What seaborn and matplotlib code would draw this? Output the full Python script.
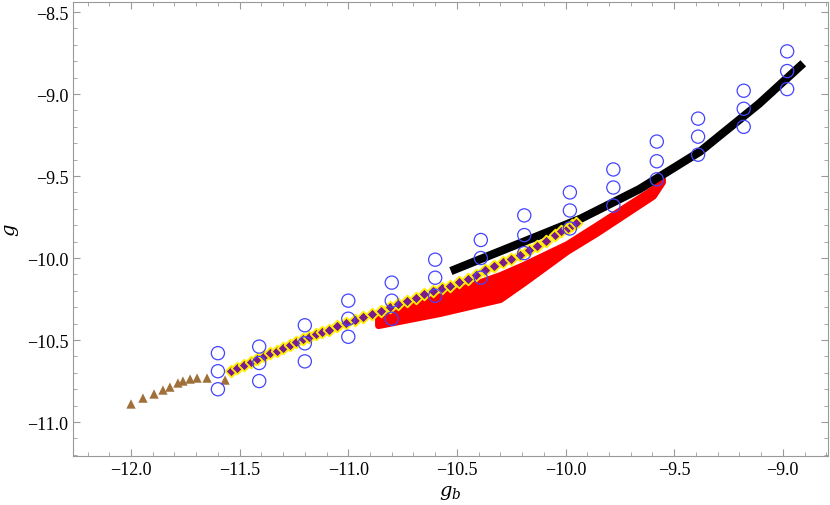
import numpy as np
import pandas as pd
import matplotlib
matplotlib.use("Agg")
import matplotlib.pyplot as plt
import seaborn as sns

circ_x = [-11.60, -11.41, -11.20, -11.00, -10.80, -10.60, -10.39, -10.19, -9.98, -9.78, -9.58, -9.39, -9.18, -8.98]
circ_top = [-10.58, -10.54, -10.41, -10.26, -10.15, -10.01, -9.89, -9.74, -9.60, -9.46, -9.29, -9.15, -8.98, -8.74]
circ_mid = [-10.69, -10.64, -10.52, -10.37, -10.26, -10.12, -10.00, -9.86, -9.71, -9.57, -9.41, -9.26, -9.09, -8.86]
circ_bot = [-10.80, -10.75, -10.63, -10.48, -10.37, -10.23, -10.12, -9.97, -9.82, -9.68, -9.52, -9.37, -9.20, -8.97]

black_x = [-10.51, -10.21, -9.93, -9.66, -9.38, -9.11, -8.92]
black_y = [-10.07, -9.91, -9.76, -9.58, -9.35, -9.06, -8.83]

tri_x = [-12.00, -11.945, -11.894, -11.853, -11.821, -11.784, -11.761, -11.728, -11.696, -11.650, -11.567]
tri_y = [-10.89, -10.854, -10.829, -10.805, -10.787, -10.762, -10.750, -10.738, -10.732, -10.732, -10.744]

dia_x = [-11.54, -11.51, -11.48, -11.45, -11.42, -11.39, -11.36, -11.33, -11.30, -11.27, -11.24, -11.21,
         -11.18, -11.15, -11.12, -11.09, -11.05, -11.01, -10.97, -10.93, -10.89, -10.85, -10.81, -10.77,
         -10.73, -10.69, -10.65, -10.61, -10.57, -10.53, -10.49, -10.45, -10.41, -10.37, -10.33, -10.29,
         -10.25, -10.21, -10.17, -10.13, -10.09, -10.05, -10.02, -9.99, -9.97, -9.95]
dia_y = [-10.689, -10.671, -10.653, -10.636, -10.618, -10.600, -10.582, -10.565, -10.547, -10.529, -10.512, -10.494,
         -10.479, -10.465, -10.450, -10.436, -10.417, -10.398, -10.379, -10.360, -10.341, -10.321, -10.301, -10.281,
         -10.262, -10.242, -10.222, -10.202, -10.182, -10.171, -10.148, -10.126, -10.102, -10.073, -10.050, -10.027,
         -10.004, -9.980, -9.953, -9.925, -9.895, -9.862, -9.838, -9.815, -9.800, -9.788]

red_x = [-10.863, -10.578, -10.302, -10.196, -9.994, -9.856, -9.598, -9.556]
red_upper = [-10.360, -10.232, -10.104, -10.043, -9.915, -9.799, -9.579, -9.518]
red_lower = [-10.409, -10.335, -10.250, -10.152, -9.957, -9.845, -9.620, -9.535]
spur_x = [-10.293, -10.196]
spur_y = [-10.232, -10.085]

xticks = [-12.0, -11.5, -11.0, -10.5, -10.0, -9.5, -9.0]
yticks = [-11.0, -10.5, -10.0, -9.5, -9.0, -8.5]

plt.rcParams["font.family"] = "Liberation Serif"
plt.rcParams["mathtext.fontset"] = "dejavuserif"
fig = plt.figure(figsize=(8.3, 5.06), dpi=100)
ax = fig.add_axes([73/830, 1-457/506, 755/830, 454/506])

ax.fill_between(red_x, red_lower, red_upper, color="red", lw=5, edgecolor="red", zorder=2)
sns.lineplot(x=spur_x, y=spur_y, ax=ax, color="red", lw=6, zorder=2, sort=False)
sns.lineplot(x=black_x, y=black_y, ax=ax, color="black", lw=6, zorder=3, sort=False)
sns.scatterplot(x=tri_x, y=tri_y, ax=ax, marker="^", s=45, color="#a0703a", edgecolor="none", zorder=4)
sns.scatterplot(x=dia_x, y=dia_y, ax=ax, marker="D", s=36, color="#7b1a8c", edgecolor="#ffee00", linewidth=1.3, zorder=5)
cdf = pd.DataFrame({"x": circ_x * 3, "y": circ_top + circ_mid + circ_bot})
sns.scatterplot(data=cdf, x="x", y="y", ax=ax, marker="o", s=90, facecolor="none", edgecolor="#4444ff", linewidth=0.9, zorder=6)

ax.set_xlim(-12.267, -8.792)
ax.set_ylim(-11.207, -8.439)
ax.set_xticks(xticks)
ax.set_yticks(yticks)
ax.set_xticklabels([f"\u2212{abs(v):.1f}" for v in xticks])
ax.set_yticklabels([f"\u2212{abs(v):.1f}" for v in yticks])
ax.xaxis.set_minor_locator(matplotlib.ticker.MultipleLocator(0.1))
ax.yaxis.set_minor_locator(matplotlib.ticker.MultipleLocator(0.1))
ax.tick_params(which="both", direction="in", color="#999999", labelsize=13, top=True, right=True, labeltop=False, labelright=False)
ax.tick_params(which="major", length=5)
ax.tick_params(which="minor", length=3)
for s in ax.spines.values():
    s.set_color("#999999")
ax.set_xlabel(r"$g_b$", fontsize=14)
ax.set_ylabel(r"$g$", fontsize=14)
fig.savefig("out.png", dpi=100)
